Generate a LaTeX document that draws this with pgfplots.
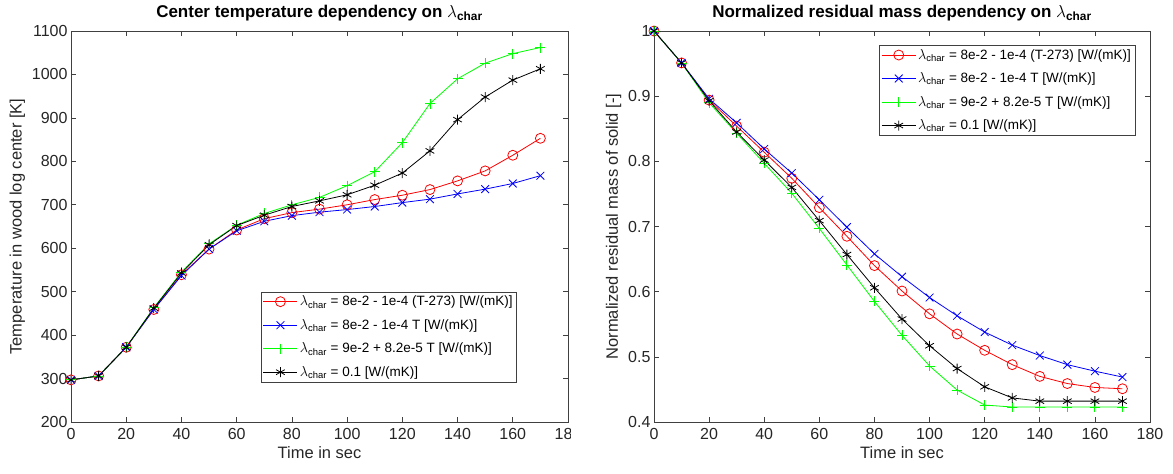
\documentclass[border=0pt]{standalone}
\usepackage{fontspec}
\setmainfont{Liberation Sans}
\usepackage{pgfplots}
\usepackage{pgfplotstable}
\pgfplotsset{compat=1.18}
\definecolor{axgray}{gray}{0.25}
\definecolor{txtgray}{gray}{0.15}
\pgfplotstableread{
x red blue green black
0 297 297 297 297
10 306 306 306 306
20 372 372 372 372
30 459 459 463 462
40 539 537 545 543
50 598 598 610 608
60 642 640 653 652
70 668 662 680 676
80 682 675 700 696
90 690 683 717 709
100 700 689 744 723
110 712 696 776 745
120 722 705 843 773
130 735 713 933 824
140 755 725 990 896
150 778 736 1026 948
160 814 749 1048 987
170 853 767 1062 1013
}\tempdata
\pgfplotstableread{
x red blue green black
0 1 1 1 1
10 0.951 0.951 0.951 0.951
20 0.894 0.896 0.890 0.893
30 0.854 0.859 0.843 0.845
40 0.814 0.819 0.797 0.802
50 0.774 0.782 0.751 0.760
60 0.729 0.741 0.697 0.709
70 0.685 0.699 0.641 0.657
80 0.640 0.658 0.585 0.606
90 0.601 0.623 0.533 0.558
100 0.566 0.591 0.486 0.517
110 0.535 0.563 0.449 0.482
120 0.510 0.538 0.426 0.454
130 0.488 0.518 0.423 0.437
140 0.470 0.502 0.423 0.432
150 0.459 0.488 0.423 0.432
160 0.453 0.478 0.423 0.432
170 0.451 0.469 0.423 0.432
}\massdata
\pgfplotsset{
  mystyle/.style={
    scale only axis, width=497pt, height=391pt,
    xmin=0, xmax=180, xtick={0,20,...,180},
    tick align=inside, major tick length=5pt,
    axis line style={axgray, line width=0.6pt},
    every tick/.style={axgray, line width=0.6pt},
    tick label style={font=\fontsize{16}{19}\selectfont, text=txtgray},
    xticklabel style={yshift=-3pt},
    /pgf/number format/assume math mode=true,
    /pgf/number format/1000 sep={},
    label style={font=\fontsize{16.5}{19}\selectfont, text=txtgray},
    title style={font=\fontsize{17}{20}\selectfont\bfseries, text=black},
    legend style={font=\fontsize{13.5}{15}\selectfont, draw=axgray, inner sep=2pt, row sep=8pt},
    legend cell align=left,
    legend image code/.code={\draw[mark repeat=2,mark phase=2] plot coordinates {(0pt,0pt)(17pt,0pt)(34pt,0pt)};},
    every axis plot/.append style={line width=0.8pt},
  },
  sred/.style={color=red, mark=o, mark size=5pt},
  sblue/.style={color=blue, mark=x, mark size=5.5pt},
  sgreen/.style={color=green, mark=+, mark size=5pt},
  sblack/.style={color=black, mark=asterisk, mark size=5pt},
}
\begin{document}
\begin{tikzpicture}
\useasboundingbox (0,0) rectangle (1173pt,474pt);
\begin{axis}[mystyle, at={(71pt,52pt)},
  ymin=200, ymax=1100, ytick={200,300,...,1100},
  title={Center temperature dependency on $\lambda$\textsubscript{char}},
  xlabel={Time in sec}, ylabel={Temperature in wood log center [K]},
  legend style={at={(0.897,0.102)}, anchor=south east}]
\addplot[sred] table[x=x,y=red] {\tempdata};
\addplot[sblue] table[x=x,y=blue] {\tempdata};
\addplot[sgreen] table[x=x,y=green] {\tempdata};
\addplot[sblack] table[x=x,y=black] {\tempdata};
\legend{$\lambda$\textsubscript{char} = 8e-2 - 1e-4 (T-273) [W/(mK)],
$\lambda$\textsubscript{char} = 8e-2 - 1e-4 T [W/(mK)],
$\lambda$\textsubscript{char} = 9e-2 + 8.2e-5 T [W/(mK)],
$\lambda$\textsubscript{char} = 0.1 [W/(mK)]}
\end{axis}
\fill[white] (571pt,5pt) rectangle (612pt,50pt);
\begin{axis}[mystyle, at={(654pt,52pt)}, width=496pt,
  ymin=0.4, ymax=1, ytick={0.4,0.5,...,1.0},
  title={Normalized residual mass dependency on $\lambda$\textsubscript{char}},
  xlabel={Time in sec}, ylabel={Normalized residual mass of solid [-]},
  legend style={at={(0.970,0.964)}, anchor=north east}]
\addplot[sred] table[x=x,y=red] {\massdata};
\addplot[sblue] table[x=x,y=blue] {\massdata};
\addplot[sgreen] table[x=x,y=green] {\massdata};
\addplot[sblack] table[x=x,y=black] {\massdata};
\legend{$\lambda$\textsubscript{char} = 8e-2 - 1e-4 (T-273) [W/(mK)],
$\lambda$\textsubscript{char} = 8e-2 - 1e-4 T [W/(mK)],
$\lambda$\textsubscript{char} = 9e-2 + 8.2e-5 T [W/(mK)],
$\lambda$\textsubscript{char} = 0.1 [W/(mK)]}
\end{axis}
\end{tikzpicture}
\end{document}
